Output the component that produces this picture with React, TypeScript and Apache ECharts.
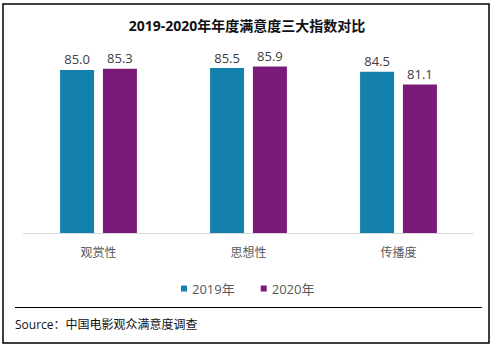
import React, { useEffect, useRef } from "react";
import * as echarts from "echarts";

const categories = ["观赏性", "思想性", "传播度"];
const series2019 = [85.0, 85.5, 84.5];
const series2020 = [85.3, 85.9, 81.1];
const seriesNames = ["2019年", "2020年"];
const titleText = "2019-2020年年度满意度三大指数对比";
const sourceText = "Source：中国电影观众满意度调查";

const FONT = "'Open Sans', 'Noto Sans CJK SC', sans-serif";

export default function App() {
  const ref = useRef<HTMLDivElement>(null);
  useEffect(() => {
    if (!ref.current) return;
    const chart = echarts.init(ref.current, null, { renderer: "svg" });
    const label = {
      show: true,
      position: "top",
      distance: 4,
      fontSize: 13,
      color: "#404040",
      fontFamily: FONT,
      formatter: (p: any) => Number(p.value).toFixed(1),
    };
    chart.setOption({
      animation: false,
      backgroundColor: "#ffffff",
      textStyle: { fontFamily: FONT },
      title: {
        text: titleText,
        left: "center",
        top: 13,
        textStyle: { fontSize: 14, fontWeight: "bold", color: "#111", fontFamily: FONT },
      },
      legend: {
        left: 176,
        top: 277,
        icon: "rect",
        itemWidth: 6,
        itemHeight: 6,
        itemGap: 26,
        itemStyle: { borderWidth: 0 },
        textStyle: { fontSize: 13, color: "#595959", fontFamily: FONT, padding: [0, 0, 0, 0] },
        data: seriesNames,
      },
      grid: { left: 23.5, right: 20.5, top: 50, bottom: 114, containLabel: false },
      xAxis: {
        type: "category",
        data: categories,
        axisLine: { lineStyle: { color: "#d9d9d9", width: 1 } },
        axisTick: { show: false },
        axisLabel: { fontSize: 12, color: "#595959", margin: 13, fontFamily: FONT },
      },
      yAxis: {
        type: "value",
        min: 41.5,
        max: 90.3,
        show: false,
        splitLine: { show: false },
      },
      series: [
        {
          name: seriesNames[0],
          type: "bar",
          data: series2019,
          barWidth: 34,
          barGap: "26%",
          itemStyle: { color: "#1380AE" },
          label,
        },
        {
          name: seriesNames[1],
          type: "bar",
          data: series2020,
          barWidth: 34,
          itemStyle: { color: "#7A1B7A" },
          label,
        },
      ],
      graphic: [
        {
          type: "rect",
          shape: { x: 3, y: 4, width: 486, height: 339 },
          style: { fill: "none", stroke: "#000", lineWidth: 1.5 },
          silent: true,
        },
        {
          type: "line",
          shape: { x1: 15, y1: 307.5, x2: 482, y2: 307.5 },
          style: { stroke: "#000", lineWidth: 1 },
          silent: true,
        },
        {
          type: "text",
          x: 15,
          y: 324,
          style: {
            text: sourceText,
            fontSize: 12,
            fill: "#111",
            fontFamily: FONT,
            verticalAlign: "middle",
            align: "left",
          },
          silent: true,
        },
      ],
    });
    return () => chart.dispose();
  }, []);
  return (
    <div
      ref={ref}
      style={{ position: "absolute", left: 0, top: 0, width: 494, height: 347 }}
    />
  );
}
